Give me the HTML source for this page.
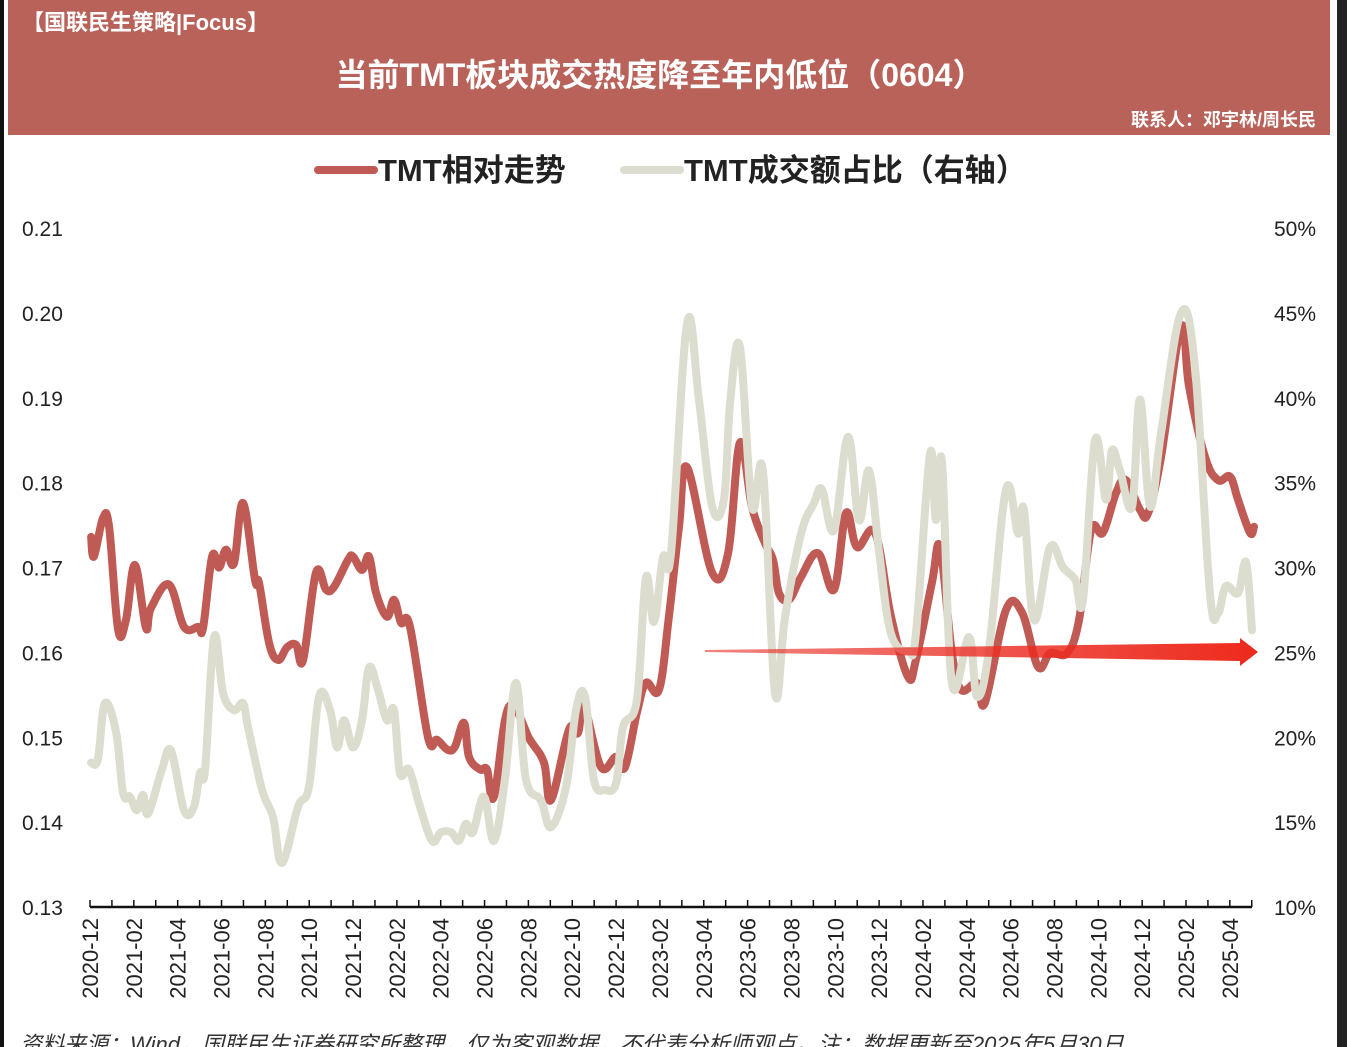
<!DOCTYPE html>
<html><head><meta charset="utf-8">
<style>
html,body{margin:0;padding:0;background:#fff;}
body{width:1347px;height:1047px;overflow:hidden;position:relative;font-family:"Liberation Sans","Noto Sans CJK SC",sans-serif;}
</style></head>
<body>
<svg id="chart" width="1347" height="1047" viewBox="0 0 1347 1047" xmlns="http://www.w3.org/2000/svg" style="position:absolute;left:0;top:0">
<rect x="0" y="0" width="4" height="1047" fill="#111"/>
<rect x="1337" y="0" width="10" height="1047" fill="#222"/>
<rect x="8" y="0" width="1322" height="135" fill="#b9625a"/>
<text x="22" y="30" font-size="22" font-weight="bold" fill="#fff" font-family="Liberation Sans,Noto Sans CJK SC,sans-serif">【国联民生策略|Focus】</text>
<text x="660" y="86" text-anchor="middle" font-size="32" font-weight="bold" fill="#fff" font-family="Liberation Sans,Noto Sans CJK SC,sans-serif">当前TMT板块成交热度降至年内低位（0604）</text>
<text x="1316" y="126" text-anchor="end" font-size="18" font-weight="bold" fill="#fff" font-family="Liberation Sans,Noto Sans CJK SC,sans-serif">联系人：邓宇林/周长民</text>
<g>
<line x1="318" y1="170" x2="374" y2="170" stroke="#c05a55" stroke-width="8" stroke-linecap="round"/>
<text x="378" y="181" font-size="31" font-weight="bold" fill="#222" font-family="Liberation Sans,Noto Sans CJK SC,sans-serif">TMT相对走势</text>
<line x1="624" y1="170" x2="680" y2="170" stroke="#dcdccf" stroke-width="8" stroke-linecap="round"/>
<text x="684" y="181" font-size="31" font-weight="bold" fill="#222" font-family="Liberation Sans,Noto Sans CJK SC,sans-serif">TMT成交额占比（右轴）</text>
</g>
<g id="axes"></g>
<g id="series"></g>
<g>
<defs><linearGradient id="ag" x1="0" x2="1"><stop offset="0" stop-color="#e8302a" stop-opacity="0.6"/><stop offset="1" stop-color="#ee2a1c"/></linearGradient></defs>
<polygon points="705,650 1240,643 1240,638 1258,652 1240,666 1240,661 705,652" fill="url(#ag)"/>
</g>
<text x="20" y="1052" font-size="22" font-style="italic" fill="#333" font-family="Liberation Sans,Noto Sans CJK SC,sans-serif">资料来源：Wind，国联民生证券研究所整理，仅为客观数据，不代表分析师观点。注：数据更新至2025年5月30日</text>
</svg>
<script>
const redMonths=[0.05,0.18,0.59,0.87,1.28,1.64,2.05,2.55,2.78,3.60,4.29,4.93,5.16,5.57,5.89,6.20,6.57,6.98,7.53,7.71,8.17,8.58,8.99,9.40,9.72,10.31,10.77,11.13,11.77,12.00,12.41,12.73,13.05,13.55,13.87,14.19,14.60,15.42,15.83,16.33,16.65,17.06,17.29,17.79,18.11,18.43,19.11,20.07,20.71,21.03,21.85,22.26,22.54,23.31,24.00,24.41,24.95,25.36,25.96,26.41,26.87,27.24,28.38,29.11,29.65,30.20,30.79,31.16,31.43,31.89,32.44,33.21,33.94,34.49,34.99,35.81,36.54,37.32,37.68,38.41,38.78,39.32,39.74,40.47,40.83,41.79,42.52,43.25,43.80,44.57,45.12,45.67,46.21,46.81,47.26,47.90,48.27,48.86,49.77,50.14,50.87,51.46,52.01,52.37,52.92,53.10];
const redValues=[0.1736,0.1713,0.1758,0.1748,0.1627,0.1638,0.1703,0.1629,0.1652,0.1680,0.1630,0.1630,0.1629,0.1713,0.1700,0.1721,0.1705,0.1776,0.1685,0.1682,0.1611,0.1591,0.1606,0.1609,0.1591,0.1694,0.1674,0.1677,0.1709,0.1713,0.1697,0.1713,0.1670,0.1642,0.1662,0.1635,0.1630,0.1500,0.1497,0.1485,0.1489,0.1517,0.1477,0.1462,0.1462,0.1430,0.1536,0.1497,0.1470,0.1426,0.1509,0.1505,0.1536,0.1465,0.1477,0.1465,0.1529,0.1564,0.1556,0.1642,0.1748,0.1818,0.1694,0.1717,0.1847,0.1771,0.1729,0.1709,0.1670,0.1662,0.1689,0.1717,0.1674,0.1764,0.1724,0.1741,0.1642,0.1571,0.1591,0.1682,0.1724,0.1599,0.1556,0.1564,0.1541,0.1650,0.1647,0.1583,0.1599,0.1599,0.1638,0.1744,0.1741,0.1788,0.1803,0.1768,0.1764,0.1830,0.1983,0.1913,0.1830,0.1803,0.1807,0.1780,0.1741,0.1748];
const shareMonths=[0.05,0.36,0.68,1.19,1.51,1.82,2.14,2.42,2.65,3.28,3.70,4.29,4.74,5.02,5.25,5.66,6.07,6.57,6.98,7.21,7.85,8.35,8.76,9.49,9.99,10.45,10.95,11.27,11.59,12.00,12.41,12.73,13.14,13.55,13.87,14.14,14.55,15.01,15.60,16.01,16.47,16.83,17.15,17.47,17.97,18.43,18.93,19.43,19.89,20.57,21.03,21.72,22.17,22.58,22.99,23.49,24.00,24.32,24.95,25.36,25.73,26.14,26.51,27.24,27.78,28.38,28.92,29.20,29.65,30.20,30.70,31.25,31.71,32.44,33.03,33.39,33.94,34.58,35.08,35.54,36.00,36.54,37.32,37.68,38.32,38.59,38.87,39.32,40.10,40.47,41.01,41.79,42.34,42.61,43.07,43.80,44.39,44.94,45.30,45.85,46.35,46.62,46.99,47.54,47.90,48.36,48.86,49.77,50.41,51.09,51.46,51.82,52.37,52.74,53.01];
const shareValues=[18.5,18.7,22.0,20.3,16.7,16.5,15.7,16.6,15.5,18.1,19.2,15.7,15.9,17.9,18.1,25.9,22.6,21.6,22.0,20.6,16.9,15.3,12.6,15.9,17.1,22.4,21.6,19.4,21.0,19.4,21.0,24.1,22.8,21.0,21.6,17.9,18.1,16.1,13.9,14.4,14.4,13.9,14.9,14.4,16.5,13.9,17.5,23.2,17.5,16.3,14.7,17.1,21.6,22.4,17.5,16.9,17.3,20.6,22.2,29.4,26.8,30.6,30.9,44.4,39.9,33.6,34.0,39.7,43.0,33.6,35.7,22.6,27.1,32.0,33.8,34.6,32.2,37.7,32.8,35.7,30.9,26.1,25.1,26.1,36.7,32.8,36.2,23.2,25.9,22.4,25.1,34.6,32.0,33.4,26.9,31.2,30.0,29.3,28.1,37.5,34.0,36.9,35.7,33.6,39.9,33.6,37.9,45.0,41.8,28.5,27.3,28.9,28.5,30.3,26.3];
const leftTicks=["0.21","0.20","0.19","0.18","0.17","0.16","0.15","0.14","0.13"];
const rightTicks=["50%","45%","40%","35%","30%","25%","20%","15%","10%"];
const dateLabels=["2020-12","2021-02","2021-04","2021-06","2021-08","2021-10","2021-12","2022-02","2022-04","2022-06","2022-08","2022-10","2022-12","2023-02","2023-04","2023-06","2023-08","2023-10","2023-12","2024-02","2024-04","2024-06","2024-08","2024-10","2024-12","2025-02","2025-04"];

const NS="http://www.w3.org/2000/svg";
const X0=90, MW=21.92, YT=228, YB=907;
function xs(m){return X0+m*MW;}
function yl(v){return YB-(v-0.13)/(0.21-0.13)*(YB-YT);}
function yr(v){return YB-(v-10)/(50-10)*(YB-YT);}
function mk(tag,attrs,parent){const e=document.createElementNS(NS,tag);for(const k in attrs)e.setAttribute(k,attrs[k]);parent.appendChild(e);return e;}
const axes=document.getElementById('axes');
const series=document.getElementById('series');
leftTicks.forEach((t,i)=>{
  const e=mk('text',{x:22,y:YT+i*(YB-YT)/8+8,'font-size':21,fill:'#222'},axes);
  e.textContent=t;
  
  
});
rightTicks.forEach((t,i)=>{
  const e=mk('text',{x:1316,y:YT+i*(YB-YT)/8+8,'font-size':21,fill:'#222','text-anchor':'end'},axes);
  e.textContent=t;
  
  
});
const ax=mk('line',{x1:X0,y1:YB,x2:1252,y2:YB,stroke:'#111','stroke-width':2.5},axes);


for(let m=0;m<=53;m++){
  const tk=mk('line',{x1:xs(m),y1:YB,x2:xs(m),y2:YB-7,stroke:'#111','stroke-width':1.5},axes);
  
  
}
dateLabels.forEach((t,i)=>{
  const x=xs(i*2)+8;
  const e=mk('text',{x:x,y:918,'font-size':22,fill:'#222','text-anchor':'end',transform:`rotate(-90 ${x} 918)`},axes);
  e.textContent=t;
  
  
});
function path(ms,vs,f){
  const p=ms.map((m,i)=>[xs(m),f(vs[i])]);
  let d='M'+p[0][0].toFixed(1)+' '+p[0][1].toFixed(1);
  for(let i=0;i<p.length-1;i++){
    const p0=p[Math.max(0,i-1)],p1=p[i],p2=p[i+1],p3=p[Math.min(p.length-1,i+2)];
    const t=0.18;
    const c1=[p1[0]+(p2[0]-p0[0])*t,p1[1]+(p2[1]-p0[1])*t];
    const c2=[p2[0]-(p3[0]-p1[0])*t,p2[1]-(p3[1]-p1[1])*t];
    d+=' C'+c1[0].toFixed(1)+' '+c1[1].toFixed(1)+' '+c2[0].toFixed(1)+' '+c2[1].toFixed(1)+' '+p2[0].toFixed(1)+' '+p2[1].toFixed(1);
  }
  return d;
}
const pr=mk('path',{d:path(redMonths,redValues,yl),fill:'none',stroke:'#c05a55','stroke-width':8,'stroke-linejoin':'round','stroke-linecap':'round'},series);


const ps=mk('path',{d:path(shareMonths,shareValues,yr),fill:'none',stroke:'#dcdccf','stroke-width':8,'stroke-linejoin':'round','stroke-linecap':'round'},series);


</script>
</body></html>
